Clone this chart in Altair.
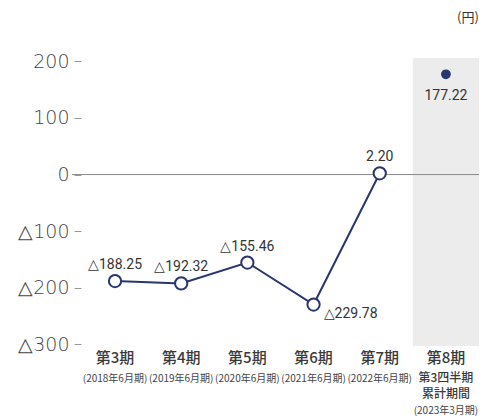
import altair as alt
import pandas as pd

periods = ["第3期", "第4期", "第5期", "第6期", "第7期", "第8期"]
period_sub = ["(2018年6月期)", "(2019年6月期)", "(2020年6月期)", "(2021年6月期)", "(2022年6月期)", "(2023年3月期)"]
last_note = "第3四半期\n累計期間"
values = [-188.25, -192.32, -155.46, -229.78, 2.20, 177.22]
value_labels = ["△188.25", "△192.32", "△155.46", "△229.78", "2.20", "177.22"]
y_ticks = [-300, -200, -100, 0, 100, 200]
unit = "(円)"

W, H = 407, 288
NAVY = "#28366e"
CJK = "Noto Sans CJK JP"

df = pd.DataFrame({"period": periods, "value": values, "label": value_labels, "sub": period_sub})
annual = df.iloc[:5]
quarter = df.iloc[5:]

xscale = alt.Scale(domain=periods, type="band", paddingInner=0, paddingOuter=0.075, align=1)
yscale = alt.Scale(domain=[-303, 206], nice=False, zero=False)
X = alt.X("period:N", scale=xscale, axis=None, sort=periods)

band = alt.Chart(quarter).mark_rect(color="#ececec").encode(
    x=X, y=alt.value(0), y2=alt.value(H)
)

zero = alt.Chart(df.iloc[:1]).mark_rule(color="#8a8a8a", strokeWidth=1).encode(
    y=alt.datum(0, scale=yscale), x=alt.value(0), x2=alt.value(W)
)

yaxis_layer = alt.Chart(df).mark_point(opacity=0).encode(
    y=alt.Y("value:Q", scale=yscale, title=None,
            axis=alt.Axis(values=y_ticks, grid=False, domain=False, offset=-9,
                          tickSize=7, tickColor="#9a9a9a", tickWidth=1, labelPadding=5,
                          labelFont="DejaVu Sans", labelFontSize=19, labelFontWeight=200,
                          labelColor="#444",
                          labelExpr="datum.value < 0 ? '△' + abs(datum.value) : datum.value"))
)

line = alt.Chart(annual).mark_line(color=NAVY, strokeWidth=2).encode(
    x=X, y=alt.Y("value:Q", scale=yscale)
)
open_pts = alt.Chart(annual).mark_point(shape="circle", filled=True, fill="white",
                                        stroke=NAVY, strokeWidth=2, size=150, opacity=1).encode(
    x=X, y=alt.Y("value:Q", scale=yscale)
)
filled_pt = alt.Chart(quarter).mark_point(shape="circle", filled=True, color=NAVY,
                                          size=95, opacity=1).encode(
    x=X, y=alt.Y("value:Q", scale=yscale)
)

LBL = dict(font="Roboto", fontSize=14, color="#333")
above = alt.Chart(df.iloc[[0, 1, 2, 4]]).mark_text(baseline="bottom", dy=-9, **LBL).encode(
    x=X, y=alt.Y("value:Q", scale=yscale), text="label:N"
)
right = alt.Chart(df.iloc[[3]]).mark_text(align="left", baseline="middle", dx=10, dy=9, **LBL).encode(
    x=X, y=alt.Y("value:Q", scale=yscale), text="label:N"
)
below = alt.Chart(quarter).mark_text(baseline="middle", dy=22, **LBL).encode(
    x=X, y=alt.Y("value:Q", scale=yscale), text="label:N"
)

main_lbl = alt.Chart(df).mark_text(font=CJK, fontSize=15, fontWeight=500, color="#3a3a3a",
                                   baseline="middle").encode(
    x=X, y=alt.value(H + 12), text="period:N"
)
sub_lbl = alt.Chart(annual).mark_text(font=CJK, fontSize=10, color="#444", baseline="middle").encode(
    x=X, y=alt.value(H + 33), text="sub:N"
)
note_df = pd.DataFrame({"period": [periods[5]], "note": [last_note]})
note_lbl = alt.Chart(note_df).mark_text(font=CJK, fontSize=12, fontWeight=500, color="#3a3a3a",
                                        baseline="top", lineBreak="\n", lineHeight=16).encode(
    x=X, y=alt.value(H + 27), text="note:N"
)
last_sub = alt.Chart(quarter).mark_text(font=CJK, fontSize=10, color="#444", baseline="middle").encode(
    x=X, y=alt.value(H + 65), text="sub:N"
)

unit_df = pd.DataFrame({"t": [unit]})
unit_lbl = alt.Chart(unit_df).mark_text(font=CJK, fontSize=13, color="#333", baseline="middle").encode(
    x=alt.value(W - 11), y=alt.value(-40), text="t:N"
)

chart = alt.layer(
    band, zero, yaxis_layer, line, open_pts, filled_pt, above, right, below,
    main_lbl, sub_lbl, note_lbl, last_sub, unit_lbl
).properties(
    width=W, height=H,
    autosize=alt.AutoSizeParams(type="none"),
    padding={"left": 64, "top": 50, "right": 0, "bottom": 73},
).configure_view(stroke=None)

chart.save("out.html", embed_options={"renderer": "svg", "actions": False})
